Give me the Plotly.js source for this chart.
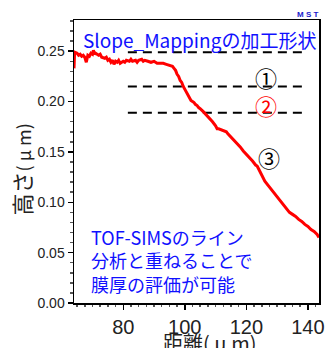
<!DOCTYPE html>
<html>
<head>
<meta charset="utf-8">
<script src="https://cdn.plot.ly/plotly-3.0.1.min.js"></script>
<style>html,body{margin:0;padding:0;background:#fff;}#chart{width:325px;height:348px;}</style>
</head>
<body>
<div id="chart"></div>
<script>
// Height profile (distance in µm, height in µm)
const distance = [64.0,64.2,65,65.5,66,66.5,67,67.5,68,68.5,69,69.5,70,70.3,70.7,71,72,72.5,73,74,74.5,75,75.5,76,76.5,77,77.5,78,78.5,79,80,80.5,81,82,82.5,83,84,84.5,85,86,86.5,87,88,89,90,91,92,93,94,95,96,96.5,97,97.5,98,98.5,99,99.5,100,100.5,101,101.5,102,102.5,103,103.5,104,104.5,105,106,107,108,109,110,110.5,111,112,113,113.5,114,115,116,117,118,119,120,121,122,123,123.5,124,125,126,127,128,129,130,131,132,133,134,135,136,137,138,139,140,141,142,143,143.6];
const height = [0.233,0.249,0.248,0.246,0.247,0.245,0.246,0.244,0.239,0.246,0.245,0.248,0.247,0.251,0.247,0.248,0.246,0.247,0.244,0.243,0.244,0.241,0.242,0.239,0.241,0.237,0.240,0.239,0.241,0.238,0.240,0.239,0.241,0.240,0.242,0.240,0.241,0.239,0.241,0.242,0.240,0.241,0.240,0.239,0.240,0.238,0.238,0.238,0.237,0.236,0.235,0.233,0.231,0.227,0.225,0.221,0.219,0.215,0.212,0.209,0.206,0.204,0.201,0.200,0.199,0.197,0.196,0.194,0.193,0.190,0.187,0.184,0.180,0.176,0.173,0.173,0.172,0.171,0.170,0.168,0.165,0.162,0.158,0.155,0.151,0.148,0.145,0.141,0.137,0.136,0.133,0.127,0.121,0.117,0.113,0.109,0.106,0.102,0.098,0.094,0.090,0.088,0.086,0.083,0.081,0.078,0.076,0.073,0.071,0.068,0.065];

// Reference levels (dashed)
const levelX = [81.5, 138.7];
const levelY = [0.249, 0.215, 0.189];
const levelLabels = ["①", "②", "③"];
const levelLabelX = [126.5, 126.5, 127.5];
const levelLabelY = [0.224, 0.197, 0.145];
const levelLabelColors = ["#000000", "#ff0000", "#000000"];

const xTicks = [80, 100, 120, 140];
const yTicks = [0.00, 0.05, 0.10, 0.15, 0.20, 0.25];

const traces = [];
levelY.forEach(v => {
  traces.push({
    x: levelX, y: [v, v], mode: 'lines', hoverinfo: 'skip',
    line: {color: '#000', width: 2, dash: '9px,6px'}, showlegend: false
  });
});
traces.push({
  x: distance, y: height, mode: 'lines',
  line: {color: '#ff0000', width: 3}, showlegend: false
});

const annotations = [];
levelLabels.forEach((t, i) => {
  annotations.push({
    x: levelLabelX[i], y: levelLabelY[i], xref: 'x', yref: 'y', text: t, showarrow: false,
    font: {family: 'Noto Sans CJK JP', size: 22, color: levelLabelColors[i]}
  });
});
annotations.push(
  {x: 0.029, y: 0.93, xref: 'paper', yref: 'paper', xanchor: 'left', yanchor: 'middle',
   text: 'Slope_Mappingの加工形状', showarrow: false,
   font: {family: 'Noto Sans CJK JP', size: 19, color: '#1010ff'}},
  {x: 0.062, y: 0.149, xref: 'paper', yref: 'paper', xanchor: 'left', yanchor: 'middle', align: 'left',
   text: 'TOF-SIMSのライン<br>分析と重ねることで<br>膜厚の評価が可能', showarrow: false,
   font: {family: 'Noto Sans CJK JP', size: 18, color: '#1010ff'}},
  {x: 0.555, y: -0.14, xref: 'paper', yref: 'paper', xanchor: 'center', yanchor: 'middle',
   text: '距離( μ m)', showarrow: false,
   font: {family: 'Noto Sans CJK JP', size: 20, color: '#222'}},
  {x: -0.215, y: 0.473, xref: 'paper', yref: 'paper', xanchor: 'center', yanchor: 'middle', textangle: -90,
   text: '高さ<span style="font-size:18px">( μ m)</span>', showarrow: false,
   font: {family: 'Noto Sans CJK JP', size: 22, color: '#222'}},
  {x: 1.005, y: 1.018, xref: 'paper', yref: 'paper', xanchor: 'right', yanchor: 'middle',
   text: '<b>M S T</b>', showarrow: false,
   font: {family: 'Liberation Sans', size: 8, color: '#1a1acc'}}
);

const layout = {
  width: 325, height: 348,
  margin: {l: 74, r: 6, t: 20, b: 45},
  paper_bgcolor: '#fff', plot_bgcolor: '#fff',
  xaxis: {
    range: [64.0, 143.6], tickvals: xTicks, ticktext: xTicks.map(String),
    ticks: 'outside', ticklen: 5, tickwidth: 1.5, tickcolor: '#000',
    minor: {dtick: 2.5, ticks: 'outside', ticklen: 2.5, tickcolor: '#555'},
    showline: true, linecolor: '#000', linewidth: 1.5, mirror: true,
    showgrid: false, zeroline: false,
    tickfont: {family: 'Liberation Sans', size: 20, color: '#222'}
  },
  yaxis: {
    range: [0, 0.281], tickvals: yTicks, ticktext: yTicks.map(v => v.toFixed(2)),
    ticks: 'outside', ticklen: 5, tickwidth: 1.5, tickcolor: '#000',
    minor: {dtick: 0.01, ticks: 'outside', ticklen: 2.5, tickcolor: '#555'},
    showline: true, linecolor: '#000', linewidth: 1.5, mirror: true,
    showgrid: false, zeroline: false,
    tickfont: {family: 'Liberation Sans', size: 14, color: '#222'}
  },
  annotations: annotations
};

Plotly.newPlot('chart', traces, layout, {displayModeBar: false, staticPlot: true});
</script>
</body>
</html>
